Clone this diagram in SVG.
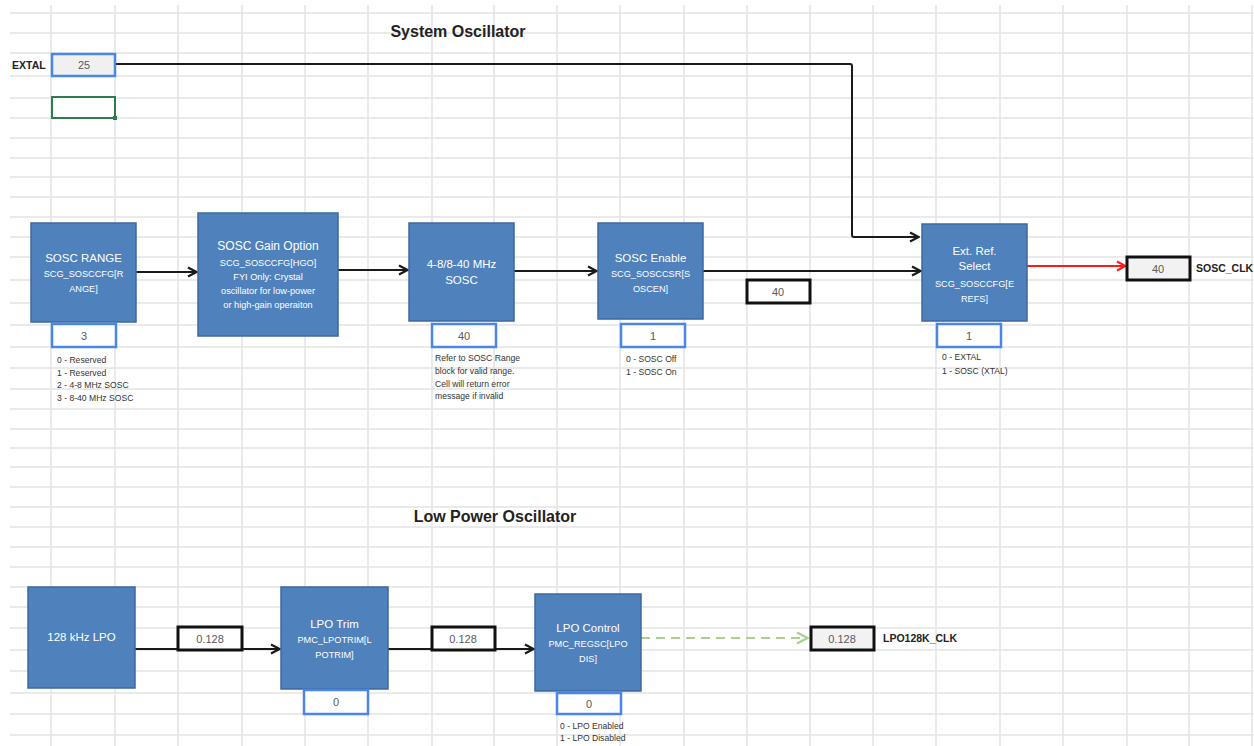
<svg xmlns="http://www.w3.org/2000/svg" width="1254" height="746" viewBox="0 0 1254 746">
<style>
.grid{stroke:#e3e3e3;stroke-width:1.5;fill:none}
.node rect.b{fill:#4f81bd;stroke:#3d6a9e;stroke-width:1.5}
.t1{font-family:"Liberation Sans",Arial,sans-serif;font-size:11.5px;fill:#ffffff;text-anchor:middle}
.t2{font-family:"Liberation Sans",Arial,sans-serif;font-size:9.2px;fill:#ffffff;text-anchor:middle}
.val{fill:#ffffff;stroke:#4a86e8;stroke-width:2.5}
.out{fill:#f2f2f2;stroke:#111;stroke-width:3}
.mid{fill:#ffffff;stroke:#111;stroke-width:3}
.vt{font-family:"Liberation Sans",Arial,sans-serif;font-size:11px;fill:#5a5a5a;text-anchor:middle}
.note{font-family:"Liberation Sans",Arial,sans-serif;font-size:8.6px;fill:#333}
.lbl{font-family:"Liberation Sans",Arial,sans-serif;font-size:10.5px;font-weight:bold;fill:#222}
.title{font-family:"Liberation Sans",Arial,sans-serif;font-size:16px;font-weight:bold;fill:#222;text-anchor:middle}
.wire{fill:none;stroke:#1a1a1a;stroke-width:2}
</style>
<defs>
<marker id="ak" viewBox="0 0 12 12" refX="11" refY="6" markerWidth="12" markerHeight="12" markerUnits="userSpaceOnUse" orient="auto">
<path d="M2,1.5 L10.5,6 L2,10.5" fill="none" stroke="#1a1a1a" stroke-width="2.2"/>
</marker>
<marker id="ar" viewBox="0 0 12 12" refX="11" refY="6" markerWidth="12" markerHeight="12" markerUnits="userSpaceOnUse" orient="auto">
<path d="M2,1.5 L10.5,6 L2,10.5" fill="none" stroke="#ff1a1a" stroke-width="2"/>
</marker>
<marker id="ag" viewBox="0 0 14 14" refX="13" refY="7" markerWidth="14" markerHeight="14" markerUnits="userSpaceOnUse" orient="auto">
<path d="M2,1.5 L12.5,7 L2,12.5" fill="none" stroke="#a9d08e" stroke-width="2.2"/>
</marker>
</defs>
<rect width="1254" height="746" fill="#ffffff"/>
<g id="grid">
<path class="grid" d="M51,5V746M115,5V746M178,5V746M242,5V746M305,5V746M368,5V746M432,5V746M494,5V746M557,5V746M620,5V746M684,5V746M747,5V746M810,5V746M873,5V746M936,5V746M1000,5V746M1063,5V746M1127,5V746M1189,5V746M1252,5V746"/>
<path class="grid" d="M10,13H1254M10,33H1254M10,53H1254M10,76H1254M10,98H1254M10,118H1254M10,138H1254M10,158H1254M10,177H1254M10,197H1254M10,217H1254M10,237H1254M10,257H1254M10,280H1254M10,303H1254M10,325H1254M10,347H1254M10,368H1254M10,389H1254M10,409H1254M10,429H1254M10,448H1254M10,467H1254M10,487H1254M10,507H1254M10,527H1254M10,547H1254M10,567H1254M10,587H1254M10,607H1254M10,628H1254M10,650H1254M10,671H1254M10,693H1254M10,714H1254M10,735H1254"/>
</g>
<g id="titles">
<text class="title" x="458" y="37">System Oscillator</text>
<text class="title" x="495" y="522">Low Power Oscillator</text>
</g>
<g id="connectors">
<path class="wire" d="M115,64H850Q852,64 852,66V235Q852,237 854,237H919" marker-end="url(#ak)"/>
<path class="wire" d="M136,272H197" marker-end="url(#ak)"/>
<path class="wire" d="M338,270H408" marker-end="url(#ak)"/>
<path class="wire" d="M514,271H597" marker-end="url(#ak)"/>
<path class="wire" d="M703,271H921" marker-end="url(#ak)"/>
<path d="M1027,266H1126" fill="none" stroke="#ff1a1a" stroke-width="2" marker-end="url(#ar)"/>
<path class="wire" d="M135,649H280" marker-end="url(#ak)"/>
<path class="wire" d="M388,649H534" marker-end="url(#ak)"/>
<path d="M641,638H808" fill="none" stroke="#a9d08e" stroke-width="2.2" stroke-dasharray="9,6" marker-end="url(#ag)"/>
</g>
<g id="extal">
<text class="lbl" x="12" y="69">EXTAL</text>
<rect x="52" y="54" width="63" height="22" fill="#f0f0f0" stroke="#4a86e8" stroke-width="2.5"/>
<text class="vt" x="84" y="69">25</text>
</g>
<g id="selected-cell">
<rect x="52" y="97" width="63" height="21" fill="#ffffff" stroke="#2e7d4f" stroke-width="2"/>
<rect x="113" y="116" width="4" height="4" fill="#2e7d4f"/>
</g>
<g id="sosc-range" class="node">
<rect class="b" x="31" y="223" width="105" height="99"/>
<text class="t1" x="83.5" y="262">SOSC RANGE</text>
<text class="t2" x="83.5" y="277">SCG_SOSCCFG[R</text>
<text class="t2" x="83.5" y="292">ANGE]</text>
<rect class="val" x="52" y="324" width="64" height="23"/>
<text class="vt" x="84" y="340">3</text>
<text class="note" x="57" y="363">0 - Reserved</text>
<text class="note" x="57" y="376">1 - Reserved</text>
<text class="note" x="57" y="388">2 - 4-8 MHz SOSC</text>
<text class="note" x="57" y="401">3 - 8-40 MHz SOSC</text>
</g>
<g id="sosc-gain" class="node">
<rect class="b" x="198" y="213" width="140" height="123"/>
<text class="t1" x="268" y="250" style="font-size:12px">SOSC Gain Option</text>
<text class="t2" x="268" y="266">SCG_SOSCCFG[HGO]</text>
<text class="t2" x="268" y="280">FYI Only: Crystal</text>
<text class="t2" x="268" y="294">oscillator for low-power</text>
<text class="t2" x="268" y="308">or high-gain operaiton</text>
</g>
<g id="sosc-freq" class="node">
<rect class="b" x="409" y="223" width="105" height="98"/>
<text class="t1" x="461.5" y="268">4-8/8-40 MHz</text>
<text class="t1" x="461.5" y="284">SOSC</text>
<rect class="val" x="432" y="324" width="64" height="23"/>
<text class="vt" x="464" y="340">40</text>
<text class="note" x="435" y="361">Refer to SOSC Range</text>
<text class="note" x="435" y="374">block for valid range.</text>
<text class="note" x="435" y="387">Cell will return error</text>
<text class="note" x="435" y="399">message if invalid</text>
</g>
<g id="sosc-enable" class="node">
<rect class="b" x="598" y="223" width="105" height="96"/>
<text class="t1" x="650.5" y="262">SOSC Enable</text>
<text class="t2" x="650.5" y="277">SCG_SOSCCSR[S</text>
<text class="t2" x="650.5" y="292">OSCEN]</text>
<rect class="val" x="621" y="324" width="64" height="23"/>
<text class="vt" x="653" y="340">1</text>
<text class="note" x="626" y="362">0 - SOSC Off</text>
<text class="note" x="626" y="375">1 - SOSC On</text>
</g>
<g id="sosc-value">
<rect class="mid" x="747" y="280" width="63" height="23"/>
<text class="vt" x="778" y="296">40</text>
</g>
<g id="ext-ref-select" class="node">
<rect class="b" x="922" y="224" width="105" height="97"/>
<text class="t1" x="974.5" y="255">Ext. Ref.</text>
<text class="t1" x="974.5" y="270">Select</text>
<text class="t2" x="974.5" y="287">SCG_SOSCCFG[E</text>
<text class="t2" x="974.5" y="302">REFS]</text>
<rect class="val" x="937" y="324" width="64" height="23"/>
<text class="vt" x="969" y="340">1</text>
<text class="note" x="942" y="360">0 - EXTAL</text>
<text class="note" x="942" y="374">1 - SOSC (XTAL)</text>
</g>
<g id="sosc-clk">
<rect class="out" x="1127" y="257" width="63" height="23"/>
<text class="vt" x="1158" y="273">40</text>
<text class="lbl" x="1196" y="272">SOSC_CLK</text>
</g>
<g id="lpo-128k" class="node">
<rect class="b" x="28" y="587" width="107" height="101"/>
<text class="t1" x="81.5" y="641">128 kHz LPO</text>
</g>
<g id="lpo-value-1">
<rect class="mid" x="178" y="627" width="64" height="23"/>
<text class="vt" x="210" y="643">0.128</text>
</g>
<g id="lpo-trim" class="node">
<rect class="b" x="281" y="587" width="107" height="102"/>
<text class="t1" x="334.5" y="628">LPO Trim</text>
<text class="t2" x="334.5" y="643">PMC_LPOTRIM[L</text>
<text class="t2" x="334.5" y="658">POTRIM]</text>
<rect class="val" x="304" y="690" width="64" height="24"/>
<text class="vt" x="336" y="706">0</text>
</g>
<g id="lpo-value-2">
<rect class="mid" x="432" y="627" width="63" height="23"/>
<text class="vt" x="463" y="643">0.128</text>
</g>
<g id="lpo-control" class="node">
<rect class="b" x="535" y="594" width="106" height="97"/>
<text class="t1" x="588" y="632">LPO Control</text>
<text class="t2" x="588" y="647">PMC_REGSC[LPO</text>
<text class="t2" x="588" y="662">DIS]</text>
<rect class="val" x="557" y="693" width="64" height="21"/>
<text class="vt" x="589" y="708">0</text>
<text class="note" x="560" y="729">0 - LPO Enabled</text>
<text class="note" x="560" y="741">1 - LPO Disabled</text>
</g>
<g id="lpo128k-clk">
<rect class="out" x="811" y="627" width="63" height="23"/>
<text class="vt" x="842" y="643">0.128</text>
<text class="lbl" x="883" y="642">LPO128K_CLK</text>
</g>
</svg>
